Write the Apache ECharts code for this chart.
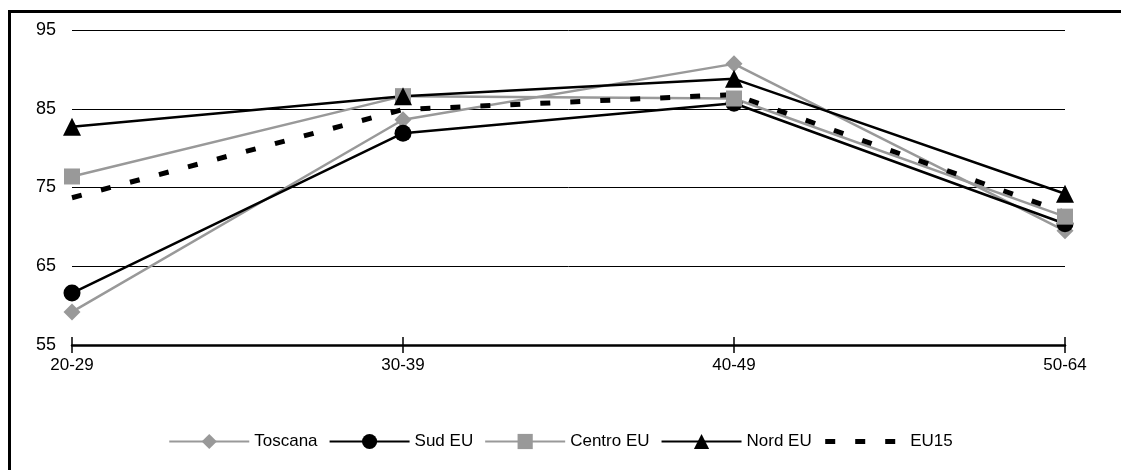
<!DOCTYPE html>
<html>
<head>
<meta charset="utf-8">
<script src="https://cdn.jsdelivr.net/npm/echarts@6/dist/echarts.min.js"></script>
<style>
  html, body { margin: 0; padding: 0; background: #fff; }
  #chart { width: 1121px; height: 470px; }
</style>
</head>
<body>
<div id="chart"></div>
<script>
// Age groups on the x axis
const categories = ['20-29', '30-39', '40-49', '50-64'];

// Values per area (percent)
const toscana  = [59.2, 83.6, 90.7, 69.5];
const sudEU    = [61.6, 81.9, 85.7, 70.4];
const centroEU = [76.4, 86.6, 86.3, 71.3];
const nordEU   = [82.7, 86.6, 88.8, 74.2];
const eu15     = [73.7, 84.9, 86.8, 71.8];

// Y axis range and step
const yMin = 55, yMax = 95, yStep = 10;

const GRAY = '#999999';
const BLACK = '#000000';
const FONT = 'Liberation Sans, Arial, sans-serif';

function lineSeries(name, data, color, symbol, size, extraLine) {
  return {
    name: name,
    type: 'line',
    data: data,
    symbol: symbol,
    symbolSize: size,
    showSymbol: symbol !== 'none',
    itemStyle: { color: color, borderWidth: 0 },
    lineStyle: Object.assign({ color: color, width: 2.5 }, extraLine || {}),
    emphasis: { disabled: true }
  };
}

const chart = echarts.init(document.getElementById('chart'), null, { renderer: 'canvas' });

chart.setOption({
  animation: false,
  backgroundColor: '#fff',
  textStyle: { fontFamily: FONT },
  graphic: [{
    type: 'rect',
    left: 7, top: 9,
    shape: { x: 0, y: 0, width: 1200, height: 600 },
    style: { fill: 'none', stroke: BLACK, lineWidth: 3 },
    z: -1
  }],
  grid: { left: 72, right: 56, top: 30, bottom: 125, containLabel: false },
  legend: {
    left: 'center',
    top: 428,
    itemWidth: 80,
    itemHeight: 19,
    itemGap: 11,
    textStyle: { fontFamily: FONT, fontSize: 17, color: BLACK },
    data: [
      'Toscana', 'Sud EU', 'Centro EU', 'Nord EU',
      {
        name: 'EU15',
        itemStyle: { color: 'rgba(0,0,0,0)' },
        lineStyle: { width: 5, type: [10, 20], cap: 'butt', color: BLACK }
      }
    ]
  },
  xAxis: [{
    type: 'category',
    data: categories,
    boundaryGap: false,
    position: 'bottom',
    axisLine: { lineStyle: { color: BLACK, width: 2.5 } },
    axisTick: { show: true, length: 8, lineStyle: { color: BLACK, width: 1.5 } },
    axisLabel: { color: BLACK, fontSize: 17, fontFamily: FONT, margin: 12 },
    splitLine: { show: false }
  }, {
    type: 'category',
    data: categories,
    boundaryGap: false,
    position: 'bottom',
    offset: 0,
    axisLine: { show: false },
    axisTick: { show: true, inside: true, length: 8, lineStyle: { color: BLACK, width: 1.5 } },
    axisLabel: { show: false },
    splitLine: { show: false }
  }],
  yAxis: {
    type: 'value',
    min: yMin,
    max: yMax,
    interval: yStep,
    axisLine: { show: false },
    axisTick: { show: false },
    axisLabel: { color: BLACK, fontSize: 18, fontFamily: FONT, margin: 16 },
    splitLine: { lineStyle: { color: BLACK, width: 1 } }
  },
  series: [
    lineSeries('Toscana', toscana, GRAY, 'diamond', 17),
    lineSeries('Sud EU', sudEU, BLACK, 'circle', 17),
    lineSeries('Centro EU', centroEU, GRAY, 'rect', 16),
    lineSeries('Nord EU', nordEU, BLACK, 'triangle', 18),
    lineSeries('EU15', eu15, BLACK, 'none', 0, { width: 5, type: [10, 20], cap: 'butt' })
  ]
});
</script>
</body>
</html>
